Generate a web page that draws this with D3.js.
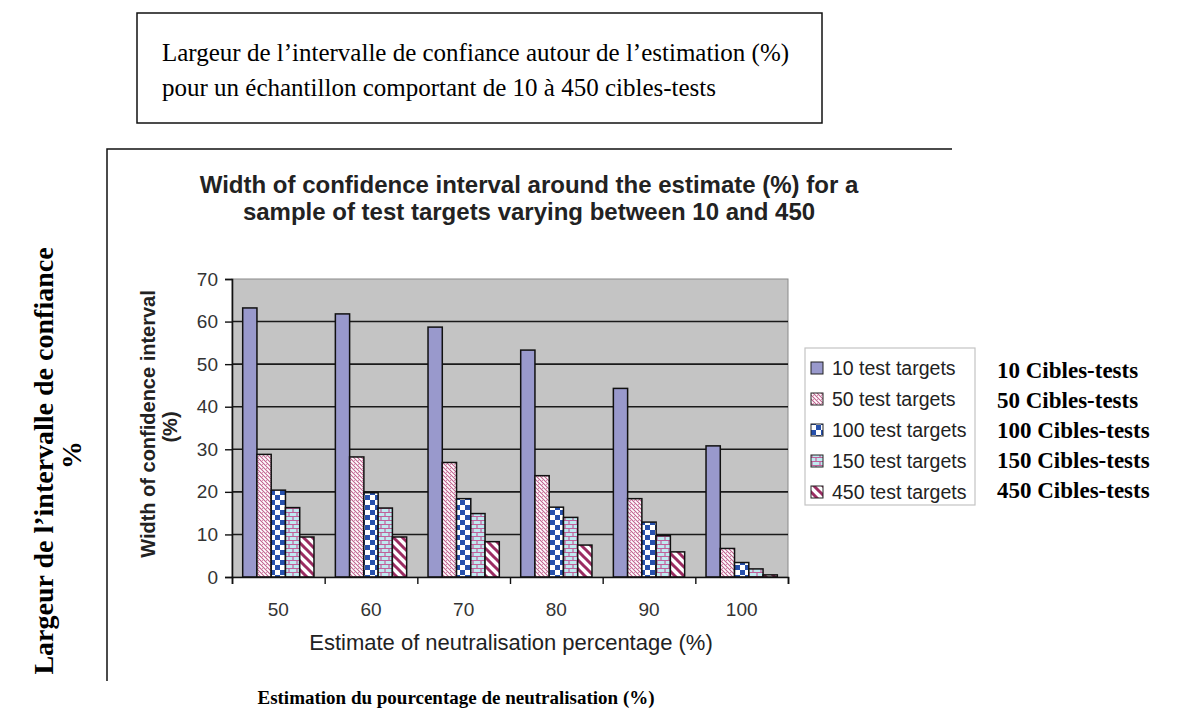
<!DOCTYPE html>
<html>
<head>
<meta charset="utf-8">
<script src="https://cdn.jsdelivr.net/npm/d3@7"></script>
<style>
  body { margin: 0; background: #fff; }
  svg { display: block; }
  .sans { font-family: "Liberation Sans", Arial, sans-serif; fill: #222; }
  .serif { font-family: "Liberation Serif", "Times New Roman", serif; fill: #000; }
</style>
</head>
<body>
<svg id="chart" width="1177" height="722"></svg>
<script>
// values
const categories = ['50', '60', '70', '80', '90', '100'];
const seriesNames = ['10 test targets', '50 test targets', '100 test targets', '150 test targets', '450 test targets'];
const frLabels = ['10 Cibles-tests', '50 Cibles-tests', '100 Cibles-tests', '150 Cibles-tests', '450 Cibles-tests'];
const s10 = [63.2, 61.8, 58.7, 53.3, 44.3, 30.8];
const s50 = [28.8, 28.2, 26.9, 23.8, 18.4, 6.7];
const s100 = [20.4, 19.8, 18.4, 16.4, 12.9, 3.4];
const s150 = [16.3, 16.2, 14.9, 14.0, 9.7, 1.9];
const s450 = [9.4, 9.4, 8.3, 7.5, 5.9, 0.5];
const yTicks = [0, 10, 20, 30, 40, 50, 60, 70];

const series = [s10, s50, s100, s150, s450];
const fills = ['url(#p10)', 'url(#p50)', 'url(#p100)', 'url(#p150)', 'url(#p450)'];

const svg = d3.select('#chart');
svg.append('rect').attr('width', 1177).attr('height', 722).attr('fill', '#fff');

// patterns (excel style hatching)
const defs = svg.append('defs');
const pat = (id, w, h) => defs.append('pattern').attr('id', id)
  .attr('patternUnits', 'userSpaceOnUse').attr('width', w).attr('height', h);

pat('p10', 4, 4).append('rect').attr('width', 4).attr('height', 4).attr('fill', '#9999cc');

let p = pat('p50', 4, 4);
p.append('rect').attr('width', 4).attr('height', 4).attr('fill', '#fff');
p.append('path').attr('d', 'M0,0 L4,4 M-1,3 L1,5 M3,-1 L5,1').attr('stroke', '#c0608e').attr('stroke-width', 1.1);
p.append('rect').attr('x', 2).attr('y', 0).attr('width', 1).attr('height', 1).attr('fill', '#d890b0');

p = pat('p100', 10, 10);
p.append('rect').attr('width', 10).attr('height', 10).attr('fill', '#fff');
p.append('rect').attr('width', 5).attr('height', 5).attr('fill', '#2650ac');
p.append('rect').attr('x', 5).attr('y', 5).attr('width', 5).attr('height', 5).attr('fill', '#2650ac');

p = pat('p150', 8, 8);
p.append('rect').attr('width', 8).attr('height', 8).attr('fill', '#bfeaf0');
p.append('path').attr('d', 'M0,0.5 H8 M0,4.5 H8 M1,0 V4 M5,4 V8').attr('stroke', '#c0609a').attr('stroke-width', 1.2);

p = pat('p450', 9, 9);
p.append('rect').attr('width', 9).attr('height', 9).attr('fill', '#fff');
p.append('path').attr('d', 'M0,0 L9,9 M-3,6 L3,12 M6,-3 L12,3').attr('stroke', '#9b2c62').attr('stroke-width', 3);

// top french box
svg.append('rect').attr('x', 137).attr('y', 13).attr('width', 685).attr('height', 110)
  .attr('fill', 'none').attr('stroke', '#111').attr('stroke-width', 1.5);
svg.append('text').attr('class', 'serif').attr('x', 162).attr('y', 61).attr('font-size', 25)
  .text('Largeur de l\u2019intervalle de confiance autour de l\u2019estimation (%)');
svg.append('text').attr('class', 'serif').attr('x', 162).attr('y', 96).attr('font-size', 25)
  .text('pour un \u00e9chantillon comportant de 10 \u00e0 450 cibles-tests');

// panel frame (left + top only)
svg.append('path').attr('d', 'M107,681 V149 H952').attr('fill', 'none').attr('stroke', '#111').attr('stroke-width', 1.5);

// chart title
const title = svg.append('text').attr('class', 'sans').attr('font-weight', 'bold').attr('font-size', 24)
  .attr('text-anchor', 'middle');
title.append('tspan').attr('x', 529).attr('y', 193).text('Width of confidence interval around the estimate (%) for a');
title.append('tspan').attr('x', 529).attr('y', 220).text('sample of test targets varying between 10 and 450');

// scales
const x0 = d3.scaleBand().domain(categories).range([232, 788]);
const x1 = d3.scaleBand().domain(d3.range(series.length)).range([0, x0.bandwidth()])
  .paddingInner(0).paddingOuter(0.75);
const y = d3.scaleLinear().domain([0, 70]).range([577, 279]);

// plot area
svg.append('rect').attr('x', 232).attr('y', y(70)).attr('width', 556).attr('height', y(0) - y(70))
  .attr('fill', '#c4c4c4').attr('stroke', '#8a8a8a').attr('stroke-width', 1);

svg.append('g').selectAll('line').data(yTicks.filter(d => d > 0 && d < 70)).join('line')
  .attr('x1', 232).attr('x2', 788).attr('y1', d => y(d)).attr('y2', d => y(d))
  .attr('stroke', '#1a1a1a').attr('stroke-width', 1.6);

// bars
const groups = svg.append('g').selectAll('g').data(series).join('g')
  .attr('fill', (d, i) => fills[i]);
groups.each(function (vals, si) {
  d3.select(this).selectAll('rect').data(vals).join('rect')
    .attr('x', (d, ci) => x0(categories[ci]) + x1(si))
    .attr('y', d => y(d))
    .attr('width', x1.bandwidth())
    .attr('height', d => y(0) - y(d))
    .attr('stroke', '#111').attr('stroke-width', 1.5);
});

// y axis
const yAxis = svg.append('g').attr('transform', 'translate(232,0)')
  .call(d3.axisLeft(y).tickValues(yTicks).tickSize(7).tickPadding(7));
yAxis.select('.domain').attr('stroke', '#111').attr('stroke-width', 1.6);
yAxis.selectAll('.tick line').attr('stroke', '#111').attr('stroke-width', 1.4);
yAxis.selectAll('text').attr('font-size', 19).attr('fill', '#333')
  .attr('font-family', '"Liberation Sans", Arial, sans-serif');

// x axis: ticks at category boundaries, labels centred
const xb = d3.scaleLinear().domain([0, categories.length]).range([232, 788]);
const xTicks = svg.append('g').attr('transform', `translate(0,${y(0)})`)
  .call(d3.axisBottom(xb).tickValues(d3.range(categories.length + 1)).tickSize(7).tickFormat(''));
xTicks.select('.domain').attr('stroke', '#111').attr('stroke-width', 1.6);
xTicks.selectAll('.tick line').attr('stroke', '#111').attr('stroke-width', 1.4);

const xLab = svg.append('g').attr('transform', `translate(0,${y(0)})`)
  .call(d3.axisBottom(x0).tickSize(0).tickPadding(26));
xLab.select('.domain').remove();
xLab.selectAll('text').attr('font-size', 19).attr('fill', '#333')
  .attr('font-family', '"Liberation Sans", Arial, sans-serif');

// axis titles
svg.append('text').attr('class', 'sans').attr('font-size', 22).attr('text-anchor', 'middle')
  .attr('x', 511).attr('y', 650).text('Estimate of neutralisation percentage (%)');

const yt = svg.append('text').attr('class', 'sans').attr('font-weight', 'bold').attr('font-size', 20)
  .attr('text-anchor', 'middle').attr('transform', 'rotate(-90)');
yt.append('tspan').attr('x', -424).attr('y', 155).text('Width of confidence interval');
yt.append('tspan').attr('x', -427).attr('y', 177).text('(%)');

// legend
const lg = svg.append('g');
lg.append('rect').attr('x', 805).attr('y', 348).attr('width', 170).attr('height', 157)
  .attr('fill', '#fff').attr('stroke', '#c4c4c4').attr('stroke-width', 1.2);
const items = lg.selectAll('g.item').data(seriesNames).join('g').attr('class', 'item')
  .attr('transform', (d, i) => `translate(811,${368 + i * 31})`);
items.append('rect').attr('x', 0).attr('y', -6).attr('width', 12).attr('height', 12)
  .attr('fill', (d, i) => fills[i]).attr('stroke', '#222').attr('stroke-width', 1);
items.append('text').attr('class', 'sans').attr('x', 21).attr('y', 7).attr('font-size', 19.5)
  .text(d => d);

// french series labels
svg.append('g').selectAll('text').data(frLabels).join('text')
  .attr('class', 'serif').attr('font-weight', 'bold').attr('font-size', 23)
  .attr('x', 997).attr('y', (d, i) => 378 + i * 30).text(d => d);

// french axis labels
svg.append('text').attr('class', 'serif').attr('font-weight', 'bold').attr('font-size', 19)
  .attr('text-anchor', 'middle').attr('x', 456).attr('y', 704)
  .text('Estimation du pourcentage de neutralisation (%)');

const fy = svg.append('text').attr('class', 'serif').attr('font-weight', 'bold').attr('font-size', 28)
  .attr('text-anchor', 'middle').attr('transform', 'rotate(-90)');
fy.append('tspan').attr('x', -461).attr('y', 53).text('Largeur de l\u2019intervalle de confiance');
fy.append('tspan').attr('x', -455).attr('y', 81).text('%');
</script>
</body>
</html>
